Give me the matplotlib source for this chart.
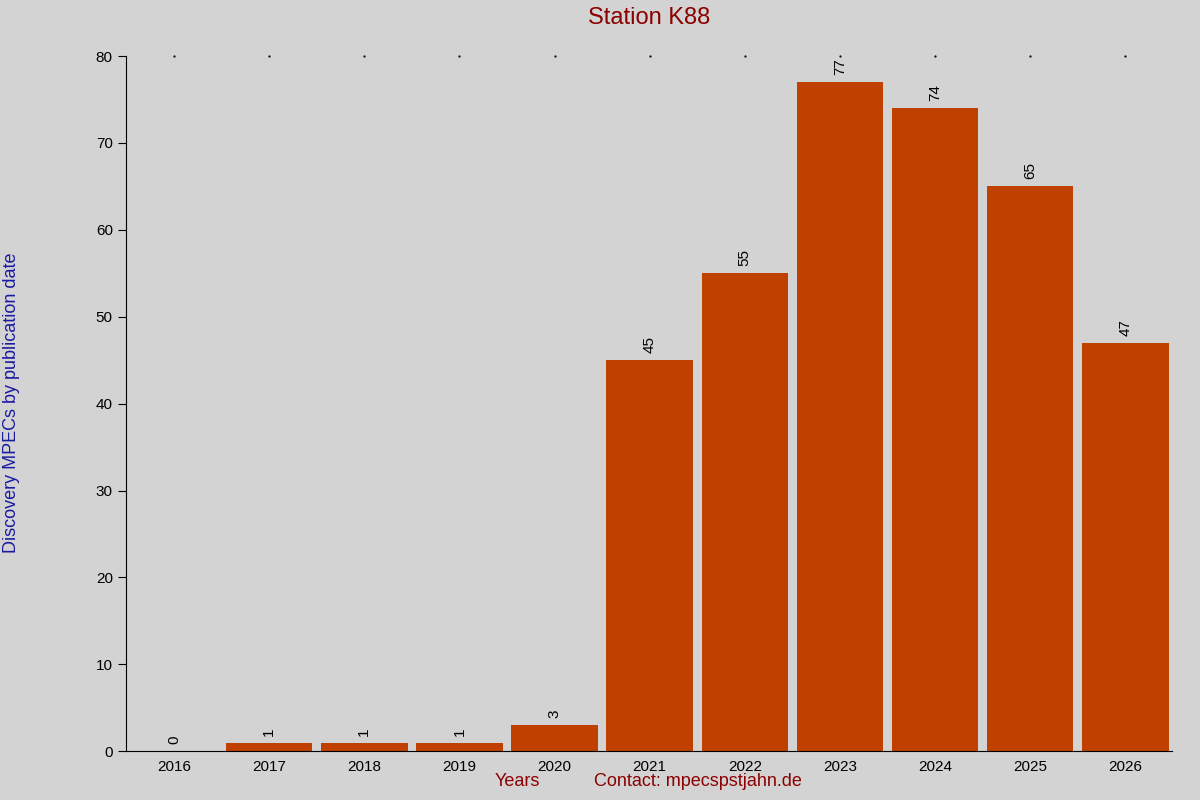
import matplotlib
matplotlib.use("Agg")
import matplotlib.pyplot as plt

plt.rcParams['font.family'] = ['Liberation Sans', 'DejaVu Sans']

years = ['2016', '2017', '2018', '2019', '2020', '2021', '2022', '2023', '2024', '2025', '2026']
counts = [0, 1, 1, 1, 3, 45, 55, 77, 74, 65, 47]

bg = '#d3d3d3'
fig = plt.figure(figsize=(12, 8), dpi=100, facecolor=bg)
ax = fig.add_axes([0.105, 0.061, 0.872, 0.869], facecolor=bg)

x = range(len(years))
ax.bar(x, counts, width=0.91, color='#c04000')
for i, v in zip(x, counts):
    ax.text(i, v + 0.8, str(v), rotation=90, ha='center', va='bottom', fontsize=11)

ax.set_xlim(-0.505, len(years) - 0.505)
ax.set_ylim(0, 80)
ax.set_xticks(list(x))
ax.set_xticklabels(years, fontsize=11)
ax.set_yticks(range(0, 81, 10))
ax.tick_params(axis='y', labelsize=11, direction='out', length=6)
ax.tick_params(axis='x', length=0, pad=6)
for s in ['top', 'right']:
    ax.spines[s].set_visible(False)
# small dots at top for each category
for i in x:
    ax.plot(i, 80, marker='.', color='black', markersize=1.2, clip_on=False)

fig.text(0.541, 0.978, 'Station K88', color='#8b0000', fontsize=17, ha='center', va='center')
fig.text(0.010, 0.496, 'Discovery MPECs by publication date', color='#1a1aa0', fontsize=13,
         rotation=90, ha='center', va='center')
fig.text(0.431, 0.017, 'Years', color='#8b0000', fontsize=13, ha='center')
fig.text(0.582, 0.017, 'Contact: mpecspstjahn.de', color='#8b0000', fontsize=13, ha='center')

fig.savefig('out.png', dpi=100, facecolor=bg)
